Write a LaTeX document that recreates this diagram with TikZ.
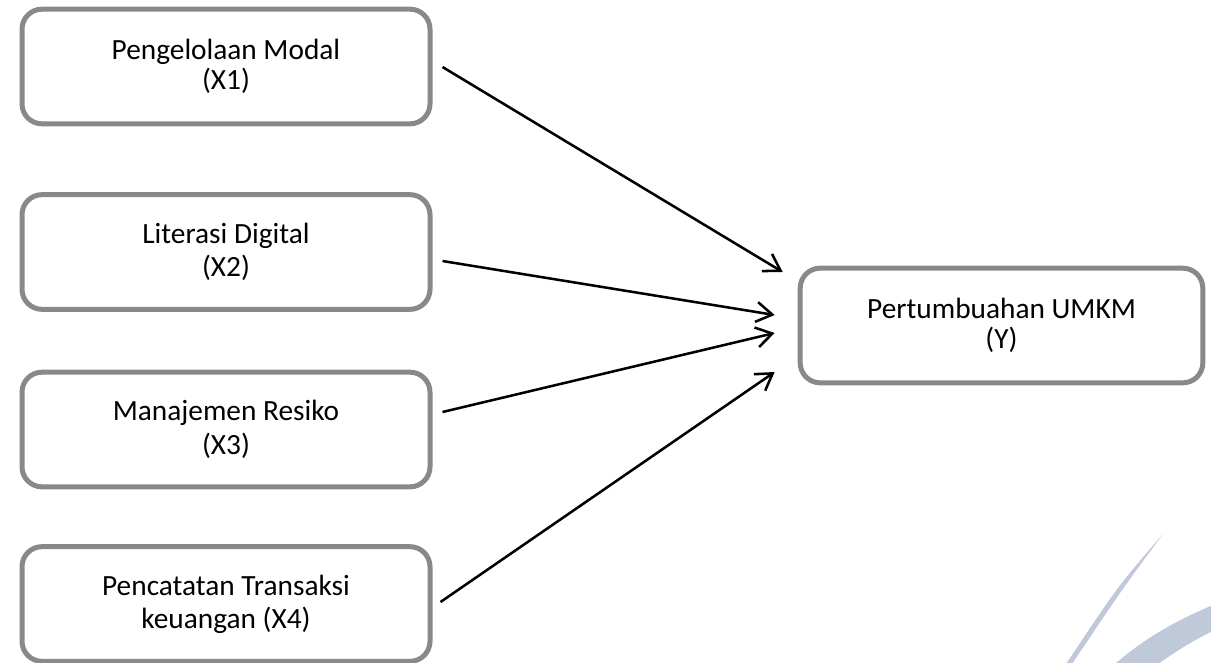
\documentclass[tikz,border=0pt]{standalone}
\usepackage{fontspec}
\setmainfont{Carlito}
\usetikzlibrary{arrows.meta}

\definecolor{boxgray}{RGB}{137,137,137}
\definecolor{swoosh}{RGB}{192,201,218}

\begin{document}
\begin{tikzpicture}[x=0.75pt,y=-0.75pt,
        varbox/.style={draw=boxgray, line width=3.75pt, rounded corners=15pt, fill=white,
            minimum width=306pt, minimum height=86pt, align=center,
            font=\fontsize{22}{25}\selectfont},
        tightbox/.style={varbox, font=\fontsize{22}{22.5}\selectfont},
        link/.style={line width=1.9pt, -{Straight Barb[length=12pt, width=15pt, line width=1.9pt]}}]

        \useasboundingbox (0,0) rectangle (1211,662);

        % Watermark swoosh (bottom right)
        \begin{scope}
            \clip (0,0) rectangle (1211,662);
            \fill[swoosh] (1163,534) .. controls (1118,586) .. (1066,664) -- (1072,664) .. controls (1123,588) .. (1163,534) -- cycle;
            \fill[swoosh] (1213,605) .. controls (1172,622) and (1140,642) .. (1115,664) -- (1158,664) .. controls (1175,652) and (1192,641) .. (1213,631) -- cycle;
        \end{scope}

        % Variables
        \node[tightbox] (x1) at (226,66.5) {Pengelolaan Modal\\(X1)};
        \node[varbox] (x2) at (226,252) {Literasi Digital\\(X2)};
        \node[varbox] (x3) at (226,429.5) {Manajemen Resiko\\(X3)};
        \node[varbox] (x4) at (226,604) {Pencatatan Transaksi\\keuangan (X4)};
        \node[tightbox, minimum width=302pt] (y) at (1001.5,325.5) {Pertumbuahan UMKM\\(Y)};

        % Arrow ends
        \coordinate (s1) at ([shift={(10,0.5)}]x1.east);
        \coordinate (s2) at ([shift={(10,9)}]x2.east);
        \coordinate (s3) at ([shift={(10,-17.5)}]x3.east);
        \coordinate (s4) at ([shift={(8,-2)}]x4.east);
        \coordinate (e1) at ([shift={(-15,-53.5)}]y.west);
        \coordinate (e2) at ([shift={(-23,-10.5)}]y.west);
        \coordinate (e3) at ([shift={(-23,7.5)}]y.west);
        \coordinate (e4) at ([shift={(-23,46.5)}]y.west);

        % Arrows
        \draw[link] (s1) -- (e1);
        \draw[link] (s2) -- (e2);
        \draw[link] (s3) -- (e3);
        \draw[link] (s4) -- (e4);

\end{tikzpicture}
\end{document}
